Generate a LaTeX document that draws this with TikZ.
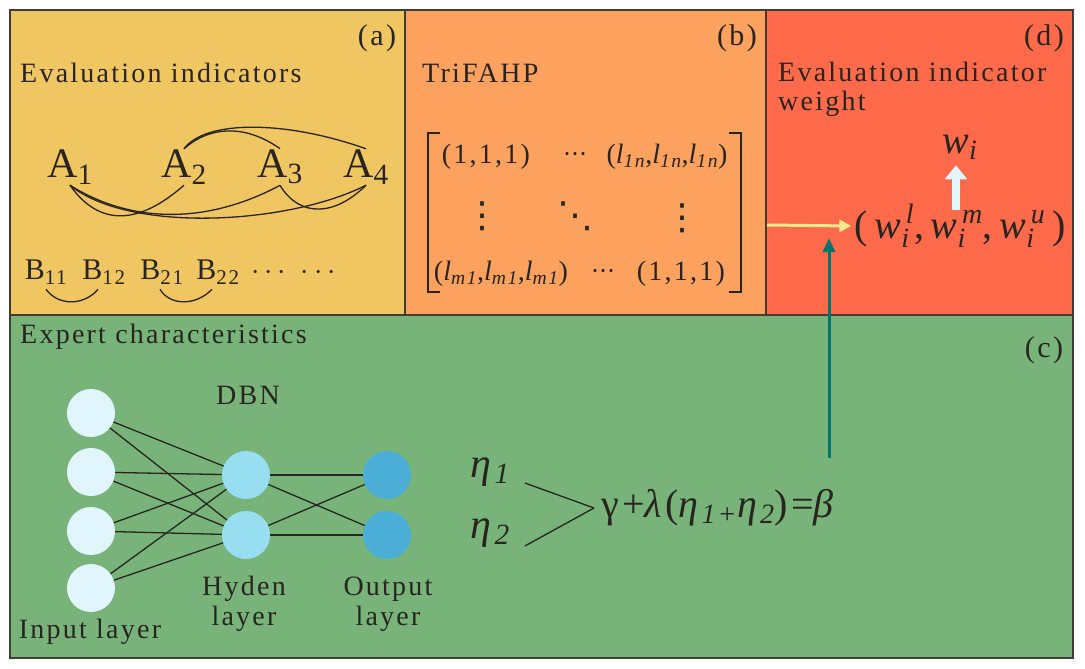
\RequirePackage{fix-cm}
\documentclass[tikz,border=0pt]{standalone}
\usepackage{amsmath}
\usepackage{fontspec}
\setmainfont{Liberation Serif}[LetterSpace=8]
\newfontfamily\dotfont{DejaVu Sans}
\usetikzlibrary{arrows.meta,positioning}
\definecolor{EvYellow}{RGB}{240,198,98}
\definecolor{EvOrange}{RGB}{253,161,95}
\definecolor{EvRed}{RGB}{255,106,74}
\definecolor{EvGreen}{RGB}{120,180,122}
\definecolor{EvEdge}{RGB}{66,60,54}
\definecolor{EvInk}{RGB}{40,36,32}
\definecolor{EvInput}{RGB}{225,245,252}
\definecolor{EvHidden}{RGB}{150,222,240}
\definecolor{EvOutput}{RGB}{74,174,214}
\definecolor{EvTeal}{RGB}{0,118,108}
\definecolor{EvLemon}{RGB}{255,232,140}
\newcommand{\lsub}[1]{$\textit{l}_{\textit{#1}}$}
\newcommand{\wsub}[1]{$\textit{w}_{\textit{i}}^{\,\textit{#1}}$}
\tikzset{
  ev/panel/.style={draw=EvEdge, line width=1.8pt},
  ev/label/.style={font=\fontsize{28}{32}\selectfont, text=EvInk, inner sep=0pt, anchor=west},
  ev/tag/.style={font=\fontsize{30}{34}\selectfont, text=EvInk, inner sep=0pt},
  ev/bigA/.style={font=\fontsize{42}{46}\selectfont, text=EvInk, inner sep=1pt},
  ev/B/.style={font=\fontsize{30}{32}\selectfont, text=EvInk, inner sep=1pt},
  ev/cell/.style={font=\fontsize{28}{30}\selectfont, text=EvInk, inner sep=0pt},
  ev/dots/.style={font=\dotfont\fontsize{24}{26}\selectfont, text=EvInk, inner sep=0pt},
  ev/vdots/.style={font=\dotfont\fontsize{36}{38}\selectfont, text=EvInk, inner sep=0pt},
  ev/math/.style={font=\fontsize{40}{44}\selectfont, text=EvInk, inner sep=0pt},
  ev/link/.style={draw=EvInk, line width=1.3pt},
  ev/neuron/.style={circle, minimum size=48pt, inner sep=0pt},
  ev/nnlabel/.style={font=\fontsize{28}{30}\selectfont, text=EvInk, align=center, inner sep=0pt}
}
\begin{document}
\begin{tikzpicture}[x=1pt,y=-1pt]
  \useasboundingbox (0,0) rectangle (1085,669);
  \fill[white] (0,0) rectangle (1085,669);
  % panels
  \draw[ev/panel, fill=EvYellow] (10,10) rectangle (405,315);
  \draw[ev/panel, fill=EvOrange] (405,10) rectangle (766,315);
  \draw[ev/panel, fill=EvRed] (766,10) rectangle (1073,315);
  \draw[ev/panel, fill=EvGreen] (10,315) rectangle (1073,658);

  \node[ev/tag] (taga) at (377,38) {(a)};
  \node[ev/tag] (tagb) at (737,38) {(b)};
  \node[ev/tag] (tagd) at (1044,38) {(d)};
  \node[ev/tag] (tagc) at (1044,350) {(c)};

  % (a) evaluation indicators
  \node[ev/label] (indic) at (20,73) {Evaluation indicators};
  \node[ev/bigA] (A1) at (70,167) {A\textsubscript{1}};
  \node[ev/bigA] (A2) at (184,167) {A\textsubscript{2}};
  \node[ev/bigA] (A3) at (280,167) {A\textsubscript{3}};
  \node[ev/bigA] (A4) at (366,167) {A\textsubscript{4}};
  \draw[ev/link] (A2.north) .. controls (205,120) and (285,120) .. (A4.north);
  \draw[ev/link] (A2.north) .. controls (212,124) and (248,126) .. (A3.north);
  \draw[ev/link] (A1.south) .. controls (100,228) and (140,224) .. (A2.south);
  \draw[ev/link] (A1.south) .. controls (125,220) and (200,228) .. (A3.south);
  \draw[ev/link] (A1.south) .. controls (130,234) and (290,224) .. (A4.south);
  \draw[ev/link] (A3.south) .. controls (300,218) and (335,216) .. (A4.south);

  \node[ev/B] (B11) at (46,272) {B\textsubscript{11}};
  \node[ev/B] (B12) at (104,272) {B\textsubscript{12}};
  \node[ev/B] (B21) at (162,272) {B\textsubscript{21}};
  \node[ev/B] (B22) at (218,272) {B\textsubscript{22}};
  \node[ev/B] (Bdots) at (296,273) {\textbf{$\cdots$ $\cdots$}};
  \draw[ev/link] ([xshift=0pt,yshift=-4pt]B11.south) .. controls (58,306) and (84,306) .. ([xshift=-6pt,yshift=-4pt]B12.south);
  \draw[ev/link] ([xshift=-2pt,yshift=-4pt]B21.south) .. controls (170,306) and (196,306) .. ([xshift=-6pt,yshift=-4pt]B22.south);

  % (b) TriFAHP
  \node[ev/label] (trif) at (422,73) {TriFAHP};
  \node[ev/cell] (m11) at (486,157) {(1,1,1)};
  \node[ev/dots] (m12) at (575,157) {⋯};
  \node[ev/cell] (m13) at (667,157) {(\lsub{1n},\lsub{1n},\lsub{1n})};
  \node[ev/vdots] (m21) at (482,216) {⋮};
  \node[ev/vdots] (m22) at (575,216) {⋱};
  \node[ev/vdots] (m23) at (682,218) {⋮};
  \node[ev/cell] (m31) at (501,274) {(\lsub{m1},\lsub{m1},\lsub{m1})};
  \node[ev/dots] (m32) at (603,274) {⋯};
  \node[ev/cell] (m33) at (681,274) {(1,1,1)};
  \draw[EvInk, line width=1.2pt] (440,133) -- (428,133) -- (428,292) -- (440,292);
  \draw[EvInk, line width=1.2pt] (729,133) -- (741,133) -- (741,292) -- (729,292);

  % (d) weight
  \node[ev/label] (weight) at (778,72) {Evaluation indicator};
  \node[ev/label] (weight2) at (778,104) {weight};
  \node[ev/math] (wi) at (960,147) {$\textit{w}_{\textit{i}}$};
  \node[ev/math] (wtri) at (960,226) {(\,\wsub{l},\,\wsub{m},\,\wsub{u}\,)};
  \draw[EvInput, line width=8pt, -{Triangle[length=14pt,width=22pt]}] ([xshift=-4pt,yshift=-6pt]wtri.north) -- ([xshift=-4pt,yshift=-6pt]wi.south);
  \coordinate (fromb) at (767,225);
  \draw[EvLemon, line width=3pt, -{Triangle[length=12pt,width=12pt]}] (fromb) -- ([xshift=-3pt]wtri.west);

  % (c) expert characteristics
  \node[ev/label] (expert) at (20,337) {Expert characteristics};
  \node[ev/nnlabel] (dbn) at (248,395) {DBN};
  \foreach \i/\y in {1/413,2/472,3/531,4/588}
    {\node[ev/neuron, fill=EvInput] (in\i) at (91,\y) {};}
  \foreach \i/\y in {1/475,2/535}
    {\node[ev/neuron, fill=EvHidden] (hd\i) at (246,\y) {};
     \node[ev/neuron, fill=EvOutput] (out\i) at (387,\y) {};}
  \foreach \i in {1,...,4}
    \foreach \j in {1,2}
      {\draw[ev/link] (in\i) -- (hd\j);}
  \foreach \i in {1,2}
    \foreach \j in {1,2}
      {\draw[ev/link] (hd\i) -- (out\j);}
  \node[ev/nnlabel] (inlab) at (90,632) {Input layer};
  \node[ev/nnlabel] (hdlab) at (244,604) {Hyden\\layer};
  \node[ev/nnlabel] (outlab) at (388,604) {Output\\layer};

  \node[ev/math, font=\fontsize{42}{46}\selectfont] (eta1) at (490,472) {\textit{η}\textsubscript{\itshape 1}};
  \node[ev/math, font=\fontsize{42}{46}\selectfont] (eta2) at (490,533) {\textit{η}\textsubscript{\itshape 2}};
  \node[ev/math, anchor=west] (beta) at (601,508)
    {γ+\textit{λ}(\textit{η}\textsubscript{\itshape 1+}\textit{η}\textsubscript{\itshape 2})=\textit{β}};
  \coordinate (join) at (594,508);
  \draw[ev/link] ([shift={(15pt,-11pt)}]eta1.east) -- (join);
  \draw[ev/link] ([shift={(15pt,-13pt)}]eta2.east) -- (join);
  \coordinate (tealfoot) at (829,458);
  \coordinate (tealtip) at (829,238);
  \draw[EvTeal, line width=3pt, -{Triangle[length=14pt,width=12pt]}] (tealfoot) -- (tealtip);
\end{tikzpicture}
\end{document}
